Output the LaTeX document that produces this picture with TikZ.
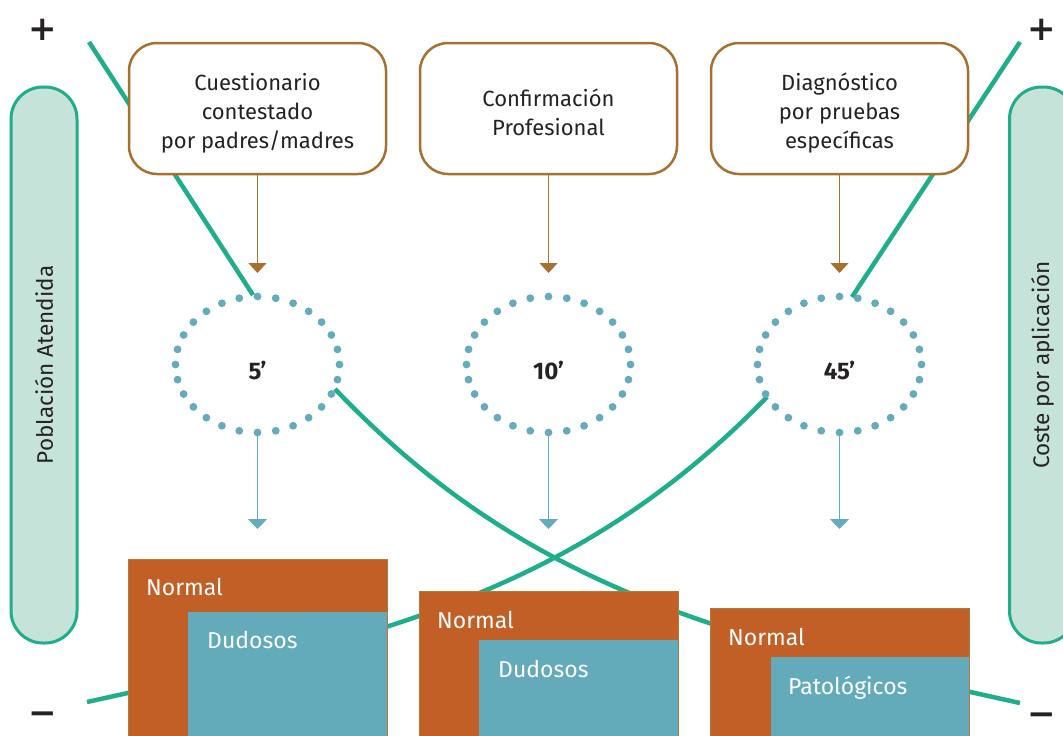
\documentclass[tikz,border=0pt]{standalone}
\usepackage{fontspec}
\setmainfont{Fira Sans}
\newfontfamily\signfont{DejaVu Sans}
\usetikzlibrary{arrows.meta,shapes.geometric}
\definecolor{tealg}{HTML}{1FAE8C}
\definecolor{pillfill}{HTML}{C5E3D9}
\definecolor{brownb}{HTML}{A8702E}
\definecolor{orangeb}{HTML}{C15F26}
\definecolor{blueb}{HTML}{63AABB}
\definecolor{dotc}{HTML}{63ABBD}
\definecolor{txt}{HTML}{262223}
\definecolor{edgeb}{HTML}{B07A3A}
\begin{document}
\begin{tikzpicture}[x=1pt,y=-1pt,
  pill/.style={draw=tealg, line width=3pt, fill=pillfill, rounded corners=32pt,
    minimum width=556pt, minimum height=66pt, inner sep=0pt, text=txt,
    font=\fontsize{22.5}{26}\selectfont},
  topbox/.style={draw=brownb, line width=2.5pt, fill=white, rounded corners=28pt,
    minimum width=257pt, minimum height=131pt, inner sep=0pt},
  boxtext/.style={align=center, text=txt, font=\fontsize{22}{29}\selectfont, inner sep=0pt},
  greenline/.style={draw=tealg, line width=4.5pt},
  brownarrow/.style={draw=brownb, line width=1.3pt, -{Triangle[width=18pt,length=10pt]}},
  bluearrow/.style={draw=dotc, line width=1.3pt, -{Triangle[width=19pt,length=10pt]}},
  outerbox/.style={fill=orangeb, draw=edgeb, line width=0.8pt, anchor=north west,
    minimum width=259pt, minimum height=200pt, inner sep=0pt},
  innerbox/.style={fill=blueb, anchor=north west, minimum width=199pt,
    minimum height=150pt, inner sep=0pt},
  wlabel/.style={text=white, font=\fontsize{23}{27}\selectfont, anchor=base west, inner sep=0pt},
  timelabel/.style={text=txt, font=\bfseries\fontsize{24}{28}\selectfont, anchor=base, inner sep=0pt},
  ring/.style={ellipse, minimum width=164pt, minimum height=136pt, inner sep=0pt},
  sign/.style={text=txt, font=\signfont\bfseries\fontsize{34}{34}\selectfont, inner sep=0pt}
]
\clip (0,0) rectangle (1063,736);
\fill[white] (0,0) rectangle (1063,736);

% side pills
\node[pill, rotate=90] (pa) at (44,365) {Población Atendida};
\node[pill, rotate=90] (ca) at (1042.5,365) {Coste por aplicación};

% signs
\node[sign] (plusl) at (43,30) {+};
\node[sign] (plusr) at (1041.5,30) {+};
\node[sign] (minl) at (43,718) {−};
\node[sign] (minr) at (1041.5,719) {−};

% rings (invisible nodes)
\node[ring] (c1) at (257.5,364.5) {};
\node[ring] (c2) at (548.5,364.5) {};
\node[ring] (c3) at (839.5,364.5) {};

% green curves
\coordinate (a0) at (89,42);
\coordinate (a1) at (253,295);
\coordinate (a2) at (335,389);
\coordinate (a3) at (1020,703);
\coordinate (b0) at (1020,42);
\coordinate (b1) at (852,297);
\coordinate (b2) at (767,397);
\coordinate (b3) at (87,702);
\draw[greenline] (a0) -- (a1);
\draw[greenline] (a2) .. controls (525,588) and (720,637) .. (a3);
\draw[greenline] (b0) -- (b1);
\draw[greenline] (b2) .. controls (577,592) and (382,637) .. (b3);

% top boxes
\node[topbox] (q1) at (257.5,108.5) {};
\node[topbox] (q2) at (548.5,108.5) {};
\node[topbox] (q3) at (839.5,108.5) {};
\node[boxtext] (q1t) at (257.5,113) {Cuestionario\\contestado\\por padres/madres};
\node[boxtext] (q2t) at (548.5,112) {Confirmación\\Profesional};
\node[boxtext] (q3t) at (839.5,113) {Diagnóstico\\por pruebas\\específicas};

% dotted rings
\foreach \cx in {257.5,548.5,839.5}{
  \foreach \i in {0,...,27}{
    \fill[dotc] ({\cx+82*cos(\i*360/28)},{364.5+68*sin(\i*360/28)}) circle[radius=3.9pt];
  }
}
\node[timelabel] (t1) at (257.5,379) {5’};
\node[timelabel] (t2) at (548.5,379) {10’};
\node[timelabel] (t3) at (839.5,379) {45’};

% arrows
\coordinate (h1) at (257.5,273);
\coordinate (h2) at (548.5,273);
\coordinate (h3) at (839.5,273);
\draw[brownarrow] (q1.south) -- (h1);
\draw[brownarrow] (q2.south) -- (h2);
\draw[brownarrow] (q3.south) -- (h3);
\coordinate (d1) at (257.5,529);
\coordinate (d2) at (548.5,529);
\coordinate (d3) at (839.5,529);
\draw[bluearrow] (c1.south) -- (d1);
\draw[bluearrow] (c2.south) -- (d2);
\draw[bluearrow] (c3.south) -- (d3);

% bottom boxes
\node[outerbox] (n1) at (128,559) {};
\node[innerbox] (i1) at (188,612) {};
\node[outerbox] (n2) at (419,591) {};
\node[innerbox] (i2) at (479,640) {};
\node[outerbox] (n3) at (710,608) {};
\node[innerbox, minimum width=198pt] (i3) at (771,657) {};
\node[wlabel] (l1) at (146,595) {Normal};
\node[wlabel] (l2) at (207,648) {Dudosos};
\node[wlabel] (l3) at (437,628) {Normal};
\node[wlabel] (l4) at (498,677) {Dudosos};
\node[wlabel] (l5) at (728,645) {Normal};
\node[wlabel] (l6) at (788,694) {Patológicos};
\end{tikzpicture}
\end{document}
